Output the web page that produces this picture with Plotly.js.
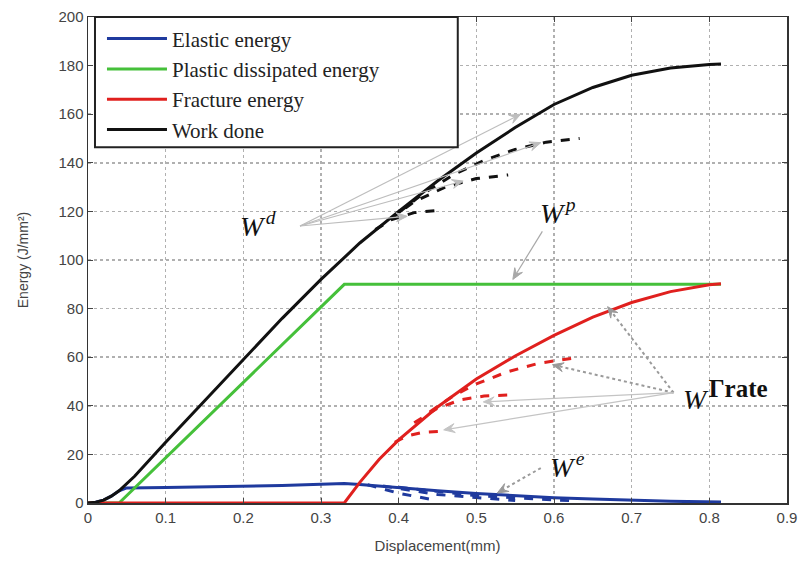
<!DOCTYPE html>
<html>
<head>
<meta charset="utf-8">
<script src="https://cdn.plot.ly/plotly-3.0.1.min.js"></script>
<style>html,body{margin:0;padding:0;background:#fff;}#chart{width:806px;height:562px;}</style>
</head>
<body>
<div id="chart"></div>
<script>
// ---- data ----
const seriesNames = ['Elastic energy', 'Plastic dissipated energy', 'Fracture energy', 'Work done'];

const xElastic = [0, 0.01, 0.02, 0.03, 0.04, 0.05, 0.1, 0.15, 0.2, 0.25, 0.3, 0.33, 0.35, 0.4, 0.45, 0.5, 0.55, 0.6, 0.65, 0.7, 0.75, 0.815];
const yElastic = [0, 0.3, 1.2, 2.8, 5, 6.2, 6.4, 6.6, 6.8, 7.2, 7.7, 8, 7.6, 6.2, 5, 3.9, 3, 2.2, 1.6, 1.1, 0.7, 0.4];

const xPlastic = [0, 0.04, 0.33, 0.815];
const yPlastic = [0, 0, 90, 90];

const xFracture = [0, 0.33, 0.35, 0.375, 0.4, 0.45, 0.5, 0.55, 0.6, 0.65, 0.7, 0.75, 0.8, 0.815];
const yFracture = [0, 0, 8.5, 18, 26, 39.5, 51, 60.5, 69, 76.5, 82.5, 87, 89.8, 90.2];

const xWork = [0, 0.01, 0.02, 0.03, 0.04, 0.05, 0.06, 0.1, 0.15, 0.2, 0.25, 0.3, 0.33, 0.35, 0.4, 0.45, 0.5, 0.55, 0.6, 0.65, 0.7, 0.75, 0.8, 0.815];
const yWork = [0, 0.3, 1.2, 2.8, 5, 8, 11, 25, 42, 59, 76, 92, 101, 107, 120, 132.5, 144, 154.5, 164, 171, 176, 179, 180.5, 180.7];

// dashed rate-variant curves
const xFracDash1 = [0.395, 0.41, 0.43, 0.455];
const yFracDash1 = [25, 27.5, 29, 29.5];
const xFracDash2 = [0.42, 0.45, 0.48, 0.51, 0.545];
const yFracDash2 = [33, 39, 42.5, 44, 44.5];
const xFracDash3 = [0.44, 0.47, 0.5, 0.54, 0.58, 0.633];
const yFracDash3 = [37.5, 44, 49, 54, 57.5, 60];

const xWorkDash1 = [0.37, 0.39, 0.42, 0.455];
const yWorkDash1 = [112.5, 116.5, 119.5, 120.5];
const xWorkDash2 = [0.39, 0.42, 0.46, 0.5, 0.541];
const yWorkDash2 = [117, 124, 130, 133.5, 135];
const xWorkDash3 = [0.40, 0.43, 0.47, 0.51, 0.55, 0.59, 0.633];
const yWorkDash3 = [119.5, 127, 135, 141, 145.5, 148.5, 150];

const xElDash1 = [0.36, 0.4, 0.45];
const yElDash1 = [7.5, 4, 1];
const xElDash2 = [0.38, 0.45, 0.55];
const yElDash2 = [7, 3.5, 1];
const xElDash3 = [0.4, 0.5, 0.63];
const yElDash3 = [6.5, 3, 0.8];

const xTicks = [0, 0.1, 0.2, 0.3, 0.4, 0.5, 0.6, 0.7, 0.8, 0.9];
const xTickLabels = ['0', '0.1', '0.2', '0.3', '0.4', '0.5', '0.6', '0.7', '0.8', '0.9'];
const yTicks = [0, 20, 40, 60, 80, 100, 120, 140, 160, 180, 200];

// ---- styles ----
const cBlue = '#1f3a9e', cGreen = '#45c03a', cRed = '#e0201e', cBlack = '#111111';
const W = 806, H = 562, M = {l: 88, r: 19, t: 17, b: 59};
const xRange = [0, 0.9], yRange = [0, 200];
const kx = (W - M.l - M.r) / (xRange[1] - xRange[0]);
const ky = (H - M.t - M.b) / (yRange[1] - yRange[0]);

function line(x, y, name, color, dash, show) {
  return {x: x, y: y, type: 'scatter', mode: 'lines', name: name,
    showlegend: !!show, hoverinfo: 'skip',
    line: {color: color, width: 3, dash: dash || 'solid'}};
}

const traces = [
  line(xElDash1, yElDash1, '', cBlue, 'dash'),
  line(xElDash2, yElDash2, '', cBlue, 'dash'),
  line(xElDash3, yElDash3, '', cBlue, 'dash'),
  line(xFracDash1, yFracDash1, '', cRed, 'dash'),
  line(xFracDash2, yFracDash2, '', cRed, 'dash'),
  line(xFracDash3, yFracDash3, '', cRed, 'dash'),
  line(xWorkDash1, yWorkDash1, '', cBlack, 'dash'),
  line(xWorkDash2, yWorkDash2, '', cBlack, 'dash'),
  line(xWorkDash3, yWorkDash3, '', cBlack, 'dash'),
  line(xElastic, yElastic, seriesNames[0], cBlue, 'solid', true),
  line(xPlastic, yPlastic, seriesNames[1], cGreen, 'solid', true),
  line(xFracture, yFracture, seriesNames[2], cRed, 'solid', true),
  line(xWork, yWork, seriesNames[3], cBlack, 'solid', true)
];

// ---- annotations (labels) and arrows (shapes) ----
const annotations = [];
const shapes = [];
const labelFont = {family: 'Liberation Serif, Times New Roman, serif', size: 28, color: '#111'};

function arrow(tail, head, color, dotted) {
  const dx = (head[0] - tail[0]) * kx, dy = (head[1] - tail[1]) * ky;
  const L = Math.hypot(dx, dy), ux = dx / L, uy = dy / L, nx = -uy, ny = ux;
  const hl = 11, hw = 4.5;
  const P = (bx, by) => [head[0] + bx / kx, head[1] + by / ky];
  const base = [-ux * hl, -uy * hl];
  const left = P(base[0] + nx * hw, base[1] + ny * hw);
  const right = P(base[0] - nx * hw, base[1] - ny * hw);
  const notch = P(-ux * hl * 0.6, -uy * hl * 0.6);
  shapes.push({type: 'line', xref: 'x', yref: 'y', x0: tail[0], y0: tail[1], x1: notch[0], y1: notch[1],
    line: {color: color, width: dotted ? 2 : 1.2, dash: dotted ? 'dot' : 'solid'}});
  shapes.push({type: 'path', xref: 'x', yref: 'y',
    path: 'M' + head[0] + ',' + head[1] + ' L' + left[0] + ',' + left[1] + ' L' + notch[0] + ',' + notch[1] +
          ' L' + right[0] + ',' + right[1] + ' Z',
    fillcolor: color, line: {color: color, width: 1}});
}

// W^d
annotations.push({xref: 'x', yref: 'y', x: 0.193, y: 114.5, xanchor: 'left', yanchor: 'middle', showarrow: false,
  text: '<i>W</i>\u200a<sup><i>d</i></sup>', font: labelFont});
const tailWd = [0.273, 114];
[[0.557, 160], [0.583, 148.3], [0.483, 132.5], [0.411, 118]].forEach(h => arrow(tailWd, h, '#bdbdbd', false));

// W^p
annotations.push({xref: 'x', yref: 'y', x: 0.58, y: 120, xanchor: 'left', yanchor: 'middle', showarrow: false,
  text: '<i>W</i>\u200a<sup><i>p</i></sup>', font: labelFont});
arrow([0.585, 111.8], [0.547, 92], '#a8a8a8', false);

// W^Γrate
annotations.push({xref: 'x', yref: 'y', x: 0.763, y: 44.5, xanchor: 'left', yanchor: 'middle', showarrow: false,
  text: '<i>W</i>\u200a<sup><b><span style="font-size:25px">Γrate</span></b></sup>', font: labelFont});
const tailWG = [0.754, 45.4];
arrow(tailWG, [0.669, 80.8], '#9a9a9a', true);
arrow(tailWG, [0.598, 56.9], '#9a9a9a', true);
arrow(tailWG, [0.509, 41.6], '#c4c4c4', false);
arrow(tailWG, [0.458, 30.1], '#c4c4c4', false);

// W^e
annotations.push({xref: 'x', yref: 'y', x: 0.592, y: 15.3, xanchor: 'left', yanchor: 'middle', showarrow: false,
  text: '<i>W</i>\u200a<sup><i>e</i></sup>', font: labelFont});
arrow([0.583, 14.4], [0.527, 4.1], '#9a9a9a', true);

// legend box
shapes.push({type: 'rect', xref: 'paper', yref: 'paper', x0: 0.01, x1: 0.529, y0: 0.732, y1: 1.0,
  layer: 'above', fillcolor: '#ffffff', line: {color: '#222', width: 2}});

const axisCommon = {
  showline: true, linecolor: '#333', linewidth: 1.5, mirror: 'ticks',
  ticks: 'inside', ticklen: 5, tickcolor: '#444', tickwidth: 1,
  showgrid: true, gridcolor: '#b0b0b0', griddash: 'dot', gridwidth: 1.5,
  zeroline: false, tickfont: {family: 'Liberation Sans, Arial, sans-serif', size: 15, color: '#444'}
};

const layout = {
  width: W, height: H,
  margin: M,
  paper_bgcolor: '#fff', plot_bgcolor: '#fff',
  showlegend: true,
  legend: {x: 0.02, y: 0.997, xanchor: 'left', yanchor: 'top', bgcolor: 'rgba(0,0,0,0)', borderwidth: 0,
    font: {family: 'Liberation Serif, Times New Roman, serif', size: 21, color: '#222'},
    itemwidth: 60, tracegroupgap: 0, traceorder: 'normal'},
  xaxis: Object.assign({}, axisCommon, {range: xRange, tickvals: xTicks, ticktext: xTickLabels,
    title: {text: 'Displacement(mm)', font: {family: 'Liberation Sans, Arial, sans-serif', size: 15, color: '#444'}, standoff: 16}}),
  yaxis: Object.assign({}, axisCommon, {range: yRange, tickvals: yTicks,
    title: {text: 'Energy (J/mm²)', font: {family: 'Liberation Sans, Arial, sans-serif', size: 14, color: '#444'}, standoff: 26}}),
  annotations: annotations,
  shapes: shapes
};

Plotly.newPlot('chart', traces, layout, {staticPlot: true, displayModeBar: false});
</script>
</body>
</html>
